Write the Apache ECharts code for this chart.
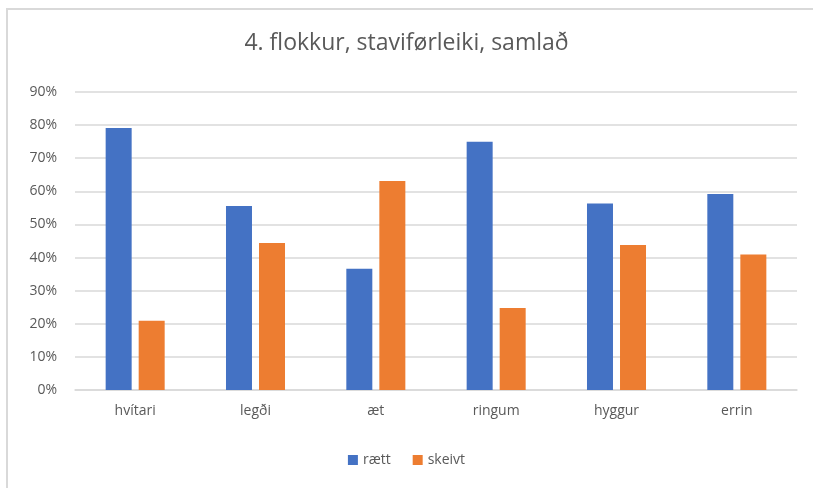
<!DOCTYPE html>
<html>
<head>
    <meta charset="utf-8" />
    <title>4. flokkur</title>
    <script src="https://cdn.jsdelivr.net/npm/echarts@6/dist/echarts.min.js"></script>
</head>
<body style="margin:0;background:#fff;">
    <div id="chart" style="width:813px;height:488px;"></div>
    <script type="text/javascript">
        var categories = ['hvítari', 'legði', 'æt', 'ringum', 'hyggur', 'errin'];
        var raettData = [79.1, 55.6, 36.6, 75.0, 56.3, 59.2];
        var skeivtData = [20.9, 44.4, 63.1, 24.8, 43.8, 40.9];
        var yTicks = [0, 10, 20, 30, 40, 50, 60, 70, 80, 90];

        var chart = echarts.init(document.getElementById('chart'));
        var font = 'Open Sans';
        var option = {
            animation: false,
            textStyle: { fontFamily: font },
            graphic: [{
                // chart frame, right and bottom edges fall outside the picture
                type: 'rect',
                shape: { x: 7, y: 9, width: 830, height: 500 },
                style: { fill: 'none', stroke: '#d9d9d9', lineWidth: 2 }
            }],
            title: {
                text: '4. flokkur, staviførleiki, samlað',
                left: 'center',
                top: 27,
                textStyle: { fontFamily: font, fontSize: 23, fontWeight: 'normal', color: '#595959' }
            },
            legend: {
                data: ['rætt', 'skeivt'],
                bottom: 16,
                left: 'center',
                itemWidth: 10,
                itemHeight: 10,
                itemGap: 22,
                icon: 'rect',
                textStyle: { fontFamily: font, fontSize: 14, color: '#595959' }
            },
            grid: { left: 75, right: 16, top: 92, bottom: 98 },
            xAxis: {
                type: 'category',
                data: categories,
                axisLine: { lineStyle: { color: '#d9d9d9', width: 1.5 } },
                axisTick: { show: false },
                axisLabel: { fontFamily: font, fontSize: 14, color: '#595959', margin: 14 }
            },
            yAxis: {
                type: 'value',
                min: yTicks[0],
                max: yTicks[yTicks.length - 1],
                interval: 10,
                axisLine: { show: false },
                axisTick: { show: false },
                axisLabel: {
                    fontFamily: font, fontSize: 14, color: '#595959', margin: 18,
                    formatter: function (v) { return v + '%'; }
                },
                splitLine: { lineStyle: { color: '#d9d9d9', width: 1.5 } }
            },
            series: [{
                name: 'rætt',
                type: 'bar',
                data: raettData,
                barWidth: 26,
                barGap: '27%',
                itemStyle: { color: '#4472c4' }
            }, {
                name: 'skeivt',
                type: 'bar',
                data: skeivtData,
                barWidth: 26,
                itemStyle: { color: '#ed7d31' }
            }]
        };
        chart.setOption(option);
    </script>
</body>
</html>
